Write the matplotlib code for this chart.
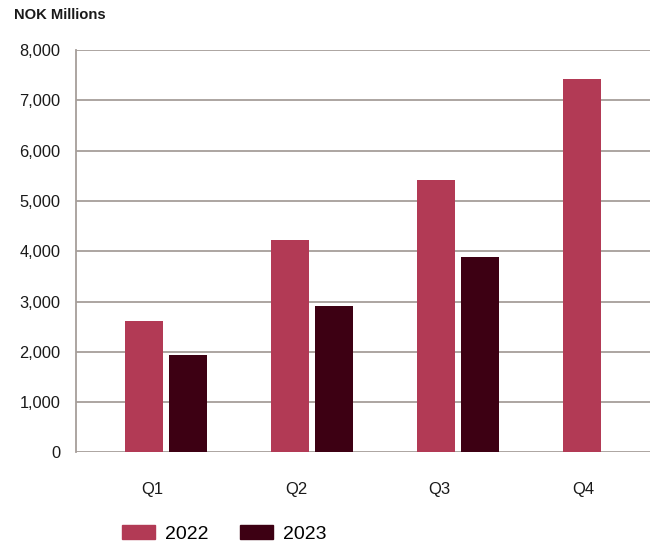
import matplotlib
matplotlib.use("Agg")
import matplotlib.pyplot as plt
import numpy as np
from matplotlib.patches import Patch

quarters = ["Q1", "Q2", "Q3", "Q4"]
values_2022 = [2610, 4220, 5410, 7420]
values_2023 = [1935, 2910, 3885, None]
series_names = ["2022", "2023"]
yticks = [0, 1000, 2000, 3000, 4000, 5000, 6000, 7000, 8000]

c2022 = "#B23A55"
c2023 = "#3D0013"
grid_c = "#A69E9A"

plt.rcParams['font.family'] = ['Liberation Sans', 'DejaVu Sans']

fig = plt.figure(figsize=(6.59, 5.49), dpi=100)
ax = fig.add_axes([0.1153, 0.1758, 0.8710, 0.7331])

idx = np.arange(len(quarters))
bw = 0.265
gap = 0.042
center = 0.625 + idx * 1.0185
x22 = center - (bw + gap) / 2
x23 = center + (bw + gap) / 2
ax.bar(x22, values_2022, width=bw, color=c2022, zorder=3)
mask = np.array([v is not None for v in values_2023])
v23 = np.array([v if v is not None else 0 for v in values_2023], dtype=float)
ax.bar(x23[mask], v23[mask], width=bw, color=c2023, zorder=3)

ax.set_xlim(0, 4)
ax.set_ylim(0, 8000)
ax.set_yticks(yticks)
ax.set_yticklabels([f"{t:,}" for t in yticks], fontsize=11.8, color="#1a1a1a")
ax.set_xticks(idx + 0.533)
ax.set_xticklabels(quarters, fontsize=12, color="#1a1a1a")
ax.tick_params(axis='y', length=0, pad=11)
ax.tick_params(axis='x', length=0, pad=21)
ax.grid(axis='y', color=grid_c, linewidth=1.3, zorder=0)
for s in ["top", "right", "bottom"]:
    ax.spines[s].set_visible(False)
ax.spines["left"].set_color(grid_c)
ax.spines["left"].set_linewidth(1.3)

fig.text(0.022, 0.973, "NOK Millions", fontsize=10.6, fontweight="bold", ha="left", va="center", color="#1a1a1a")

handles = [Patch(color=c2022), Patch(color=c2023)]
fig.legend(handles, series_names, loc="center left", bbox_to_anchor=(0.185, 0.027),
           ncol=2, frameon=False, fontsize=14, handlelength=1.7, handleheight=0.75,
           columnspacing=1.65, handletextpad=0.5, borderaxespad=0, borderpad=0)

fig.savefig("out.png", dpi=100)
